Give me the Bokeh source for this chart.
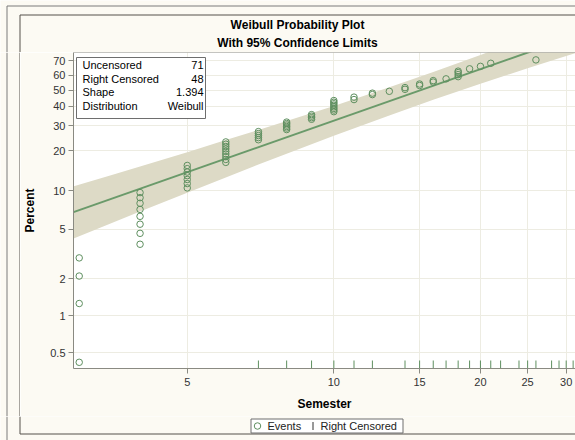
import numpy as np
from bokeh.plotting import figure
from bokeh.models import (FixedTicker, CustomJSTickFormatter, Label, BoxAnnotation,
                          Span, Column, Row)
from bokeh.core.properties import value
from bokeh.embed import file_html
from bokeh.resources import INLINE

# ---------------- data ----------------
event_semester = [
    3, 3, 3, 3,
    4, 4, 4, 4, 4, 4, 4, 4,
    5, 5, 5, 5, 5, 5, 5,
    6, 6, 6, 6, 6, 6, 6, 6, 6,
    7, 7, 7, 7, 7,
    8, 8, 8, 8, 8, 8,
    9, 9, 9, 9,
    10, 10, 10, 10, 10, 10, 10, 10,
    11, 11, 12, 12, 13, 14, 14, 15, 15, 16, 16, 17,
    18, 18, 18, 18, 19, 20, 21, 26]
event_percent = [
    0.42, 1.26, 2.10, 2.94,
    3.78, 4.62, 5.46, 6.30, 7.14, 7.98, 8.82, 9.66,
    10.50, 11.34, 12.18, 13.03, 13.87, 14.71, 15.55,
    16.39, 17.23, 18.07, 18.91, 19.75, 20.59, 21.43, 22.27, 23.11,
    23.95, 24.79, 25.63, 26.47, 27.31,
    28.2, 28.9, 29.6, 30.3, 31.0, 31.7,
    33.1, 33.9, 34.7, 35.5,
    37.1, 38.0, 38.9, 39.8, 40.7, 41.6, 42.5, 43.5,
    44.1, 45.6, 47.2, 48.1, 49.3, 50.6, 51.7, 53.1, 54.1, 55.4, 56.4, 57.6,
    59.1, 60.5, 61.9, 62.9, 64.5, 66.2, 68.3, 70.6]
censored_semester = [7, 8, 9, 10, 11, 12, 14, 15, 16, 17, 18, 19, 20, 21, 22,
                     24, 25, 26, 28, 29, 30, 31]

band_semester = [2.9, 3.5, 4, 5, 6, 7, 8, 10, 13, 16, 20, 25, 29, 33]
band_upper_pct = [10.7, 13.2, 15.3, 19.5, 23.8, 28.0, 32.2, 40.3, 51.9, 62.3, 73.9, 84.6, 90.4, 94.3]
band_lower_pct = [4.16, 5.59, 6.87, 9.64, 12.6, 15.8, 19.0, 25.6, 35.1, 44.0, 54.3, 64.9, 71.7, 77.3]

n_uncensored = 71
n_right_censored = 48
weibull_shape = 1.394
weibull_scale = 19.6

x_ticks = [5, 10, 15, 20, 25, 30]
y_ticks_pct = [0.5, 1, 2, 5, 10, 20, 30, 40, 50, 60, 70]
x_min, x_max = 2.92, 31.35
y_min_pct, y_max_pct = 0.374, 75.5

title_lines = ["Weibull Probability Plot", "With 95% Confidence Limits"]
legend_labels = ["Events", "Right Censored"]
stat_names = ["Uncensored", "Right Censored", "Shape", "Distribution"]
stat_values = [str(n_uncensored), str(n_right_censored), f"{weibull_shape:.3f}", "Weibull"]

# ---------------- styling ----------------
PAGE = "#FCFAF3"
GREEN = "#5E8F5F"
LINE_GREEN = "#6A9A6A"
BAND = "#DDDAC6"
GRID = "#EDECE2"
AXIS = "#8A8A82"
FONT = "Liberation Sans"
INNER = "#55504A"
OUTER = "#7A7A7A"
W, H = 575, 440
TOP_H, BOTTOM_H, LEFT_W = 52, 24, 20
MID_H = H - TOP_H - BOTTOM_H


def wb(pct):
    """Weibull probability-paper transform."""
    return np.log(-np.log(1.0 - np.asarray(pct, dtype=float) / 100.0))


def strip(w, h):
    """A plain drawing surface whose data units are canvas pixels (y downward)."""
    f = figure(width=w, height=h, x_range=(0, w), y_range=(h, 0),
               output_backend="svg", toolbar_location=None, title=None,
               x_axis_location=None, y_axis_location=None,
               min_border=0, min_border_left=0, min_border_right=0,
               min_border_top=0, min_border_bottom=0, frame_align=False,
               background_fill_color=PAGE, border_fill_color=PAGE,
               outline_line_color=None)
    f.xgrid.visible = False
    f.ygrid.visible = False
    return f


# ---- header strip: page borders and the two title lines ----
top = strip(W, TOP_H)
top.segment(x0=[6.5, 6.5, 19.5, 19.5], y0=[5.5, 5.5, 14.5, 14.5],
            x1=[W, 6.5, W, 19.5], y1=[5.5, TOP_H, 14.5, TOP_H],
            line_color=[OUTER, OUTER, INNER, INNER], line_width=1)
top.text(x=[297, 297], y=[24.5, 42], text=title_lines, text_font=value(FONT),
         text_font_size="12px", text_font_style="bold", text_align="center",
         text_baseline="middle", text_color="#000000")

# ---- left strip: the two vertical page borders ----
left = strip(LEFT_W, MID_H)
left.segment(x0=[6.5, 19.5], y0=[0, 0], x1=[6.5, 19.5], y1=[MID_H, MID_H],
             line_color=[OUTER, INNER], line_width=1)

# ---- main plot: canvas spans x 20..575, y 52..416 of the page ----
p = figure(width=W - LEFT_W, height=MID_H, x_axis_type="log",
           x_range=(x_min, x_max), y_range=(float(wb(y_min_pct)), float(wb(y_max_pct))),
           output_backend="svg", toolbar_location=None, title=None, frame_align=False,
           min_border_left=53, min_border_right=0, min_border_top=0, min_border_bottom=48,
           background_fill_color="#FFFFFF", border_fill_color=PAGE, outline_line_color=None)

p.xaxis.ticker = FixedTicker(ticks=x_ticks)
p.xaxis.formatter = CustomJSTickFormatter(code="return tick.toFixed(0);")
p.yaxis.ticker = FixedTicker(ticks=[float(v) for v in wb(y_ticks_pct)])
p.yaxis.formatter = CustomJSTickFormatter(code="""
const q = 100*(1 - Math.exp(-Math.exp(tick)));
return q < 1 ? q.toFixed(1) : q.toFixed(0);
""")
p.xaxis.axis_label = "Semester"
p.yaxis.axis_label = "Percent"
for ax in (p.xaxis[0], p.yaxis[0]):
    ax.axis_line_color = AXIS
    ax.major_tick_line_color = AXIS
    ax.minor_tick_line_color = None
    ax.major_tick_out = 5
    ax.major_tick_in = 0
    ax.major_label_text_font = FONT
    ax.major_label_text_font_size = "11px"
    ax.major_label_text_color = "#333333"
    ax.axis_label_text_font = FONT
    ax.axis_label_text_font_size = "12px"
    ax.axis_label_text_font_style = "bold"
    ax.axis_label_text_color = "#000000"
p.xaxis.major_label_standoff = 4
p.xaxis.axis_label_standoff = 8
p.yaxis.major_label_standoff = 3
p.yaxis.axis_label_standoff = 10
p.xgrid.grid_line_color = GRID
p.ygrid.grid_line_color = GRID

# confidence band and fitted line
p.varea(x=band_semester, y1=wb(band_lower_pct), y2=wb(band_upper_pct),
        fill_color=BAND, fill_alpha=1.0)
t_line = np.array([x_min, x_max])
p.line(t_line, weibull_shape * (np.log(t_line) - np.log(weibull_scale)),
       line_color=LINE_GREEN, line_width=2)

# events and censored ticks
p.scatter(event_semester, wb(event_percent), marker="circle", size=6.5,
          fill_color=None, line_color=GREEN, line_width=1)
p.scatter(censored_semester, [float(wb(y_min_pct))] * len(censored_semester),
          marker="dash", angle=np.pi / 2, size=16, line_color=GREEN, line_width=1)

# top frame line
p.add_layout(Span(location=float(wb(y_max_pct)), dimension="width",
                  line_color=AXIS, line_width=1))

# statistics inset (canvas units of this figure)
p.add_layout(BoxAnnotation(left=56, right=185, top=5, bottom=66,
                           left_units="canvas", right_units="canvas",
                           top_units="canvas", bottom_units="canvas",
                           fill_color="#FFFFFF", fill_alpha=1.0,
                           line_color="#6E6E6E", line_alpha=1.0, line_width=1))
row_y = [303.5, 290, 276.5, 263]
for name, val, yy in zip(stat_names, stat_values, row_y):
    p.add_layout(Label(x=9, y=yy, x_units="screen", y_units="screen", text=name,
                       text_font=FONT, text_font_size="11px", text_baseline="middle",
                       text_align="left", text_color="#000000"))
    p.add_layout(Label(x=130, y=yy, x_units="screen", y_units="screen", text=val,
                       text_font=FONT, text_font_size="11px", text_baseline="middle",
                       text_align="right", text_color="#000000"))

# ---- bottom strip: legend and page borders (page y 416..440) ----
bot = strip(W, BOTTOM_H)
bot.segment(x0=[6.5, 19.5, 19.5], y0=[0, 0, 17.5], x1=[6.5, 19.5, W], y1=[BOTTOM_H, 17.5, 17.5],
            line_color=[OUTER, INNER, INNER], line_width=1)
bot.quad(left=[250.5], right=[402.5], top=[2.5], bottom=[16.5], fill_color="#FFFFFF",
         line_color="#6E6E6E", line_width=1)
bot.scatter([257], [9.5], marker="circle", size=6.5, fill_color=None,
            line_color=GREEN, line_width=1)
bot.segment(x0=[312.5], y0=[5.5], x1=[312.5], y1=[13.5], line_color="#333333", line_width=1)
bot.text(x=[267, 320], y=[9.5, 9.5], text=legend_labels, text_font=value(FONT),
         text_font_size="11px", text_baseline="middle", text_align="left",
         text_color="#222222")

mid = Row(children=[left, p], spacing=0)
page = Column(children=[top, mid, bot], spacing=0)

open("out.html", "w").write(file_html(page, INLINE))
